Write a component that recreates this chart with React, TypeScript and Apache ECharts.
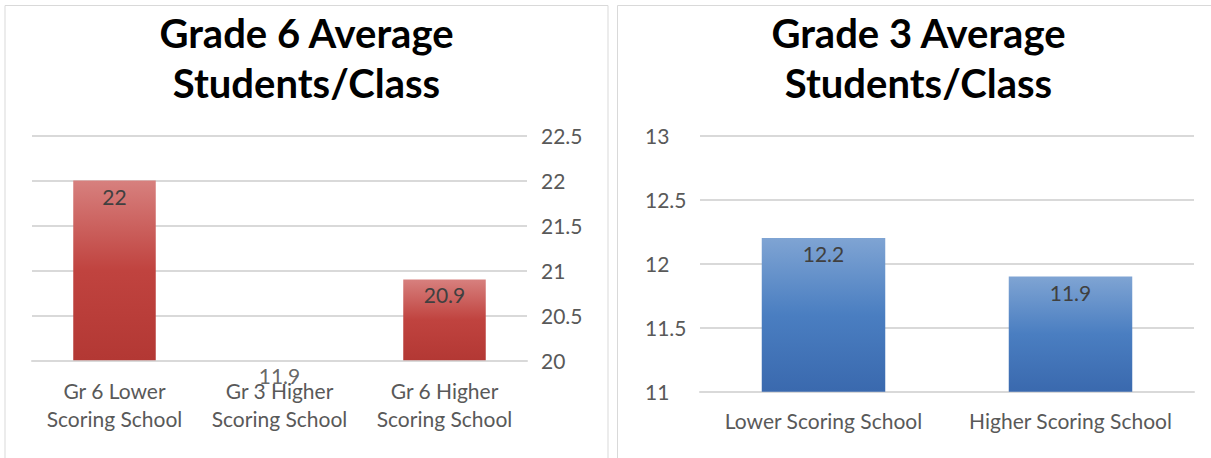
import React, { useEffect, useRef } from "react";
import * as echarts from "echarts";

const g6Categories = ["Gr 6 Lower\nScoring School", "Gr 3 Higher\nScoring School", "Gr 6 Higher\nScoring School"];
const g6Values = [22, 11.9, 20.9];
const g6Title = "Grade 6 Average\nStudents/Class";

const g3Categories = ["Lower Scoring School", "Higher Scoring School"];
const g3Values = [12.2, 11.9];
const g3Title = "Grade 3 Average\nStudents/Class";

const FONT = "Lato, 'Open Sans', sans-serif";
const GRID_COLOR = "#D9D9D9";
const TEXT_COLOR = "#595959";

export default function App() {
  const ref = useRef<HTMLDivElement>(null);
  useEffect(() => {
    if (!ref.current) return;
    const chart = echarts.init(ref.current, undefined, { renderer: "svg" });
    const redGrad = new echarts.graphic.LinearGradient(0, 0, 0, 1, [
      { offset: 0, color: "#D7807E" },
      { offset: 0.5, color: "#C0433F" },
      { offset: 1, color: "#B33834" },
    ]);
    const blueGrad = new echarts.graphic.LinearGradient(0, 0, 0, 1, [
      { offset: 0, color: "#7FA4D3" },
      { offset: 0.5, color: "#4A7EC1" },
      { offset: 1, color: "#3A69AE" },
    ]);
    const g6Min = 20;
    const valueLabel = {
      show: true,
      position: "insideTop",
      distance: 5,
      color: "#404040",
      fontSize: 21,
      fontFamily: FONT,
    };
    chart.setOption({
      animation: false,
      backgroundColor: "#fff",
      textStyle: { fontFamily: FONT },
      graphic: [
        { type: "rect", shape: { x: 5, y: 5.5, width: 603, height: 470 }, style: { fill: "none", stroke: GRID_COLOR, lineWidth: 1 }, silent: true },
        { type: "rect", shape: { x: 617.5, y: 5.5, width: 610, height: 470 }, style: { fill: "none", stroke: GRID_COLOR, lineWidth: 1 }, silent: true },
        { type: "text", x: 306.5, y: 58, style: { text: g6Title, align: "center", verticalAlign: "middle", font: `bold 40px ${FONT}`, lineHeight: 50, fill: "#000" } },
        { type: "text", x: 918.5, y: 58, style: { text: g3Title, align: "center", verticalAlign: "middle", font: `bold 40px ${FONT}`, lineHeight: 50, fill: "#000" } },
      ],
      grid: [
        { left: 32, top: 135.7, width: 495, height: 224.6, containLabel: false },
        { left: 700, top: 135.7, width: 494, height: 256, containLabel: false },
      ],
      xAxis: [
        {
          type: "category",
          gridIndex: 0,
          data: g6Categories,
          axisLine: { show: true, lineStyle: { color: GRID_COLOR, width: 2 } },
          axisTick: { show: false },
          axisLabel: { color: TEXT_COLOR, fontSize: 21, lineHeight: 28, margin: 16, fontFamily: FONT, interval: 0 },
        },
        {
          type: "category",
          gridIndex: 1,
          data: g3Categories,
          axisLine: { show: true, lineStyle: { color: GRID_COLOR, width: 2 } },
          axisTick: { show: false },
          axisLabel: { color: TEXT_COLOR, fontSize: 21, lineHeight: 28, margin: 15, fontFamily: FONT, interval: 0 },
        },
      ],
      yAxis: [
        {
          type: "value",
          gridIndex: 0,
          position: "right",
          min: g6Min,
          max: 22.5,
          interval: 0.5,
          axisLine: { show: false },
          axisTick: { show: false },
          splitLine: { show: true, lineStyle: { color: GRID_COLOR, width: 2 } },
          axisLabel: { color: TEXT_COLOR, fontSize: 21, margin: 14, fontFamily: FONT, align: "left" },
        },
        {
          type: "value",
          gridIndex: 1,
          position: "left",
          min: 11,
          max: 13,
          interval: 0.5,
          axisLine: { show: false },
          axisTick: { show: false },
          splitLine: { show: true, lineStyle: { color: GRID_COLOR, width: 2 } },
          axisLabel: { color: TEXT_COLOR, fontSize: 21, margin: 55, fontFamily: FONT, align: "left" },
        },
      ],
      series: [
        {
          type: "bar",
          xAxisIndex: 0,
          yAxisIndex: 0,
          barWidth: "50%",
          itemStyle: { color: redGrad },
          label: valueLabel,
          data: g6Values.map((v) => (v < g6Min ? { value: v, label: { show: false } } : v)),
        },
        {
          type: "scatter",
          xAxisIndex: 0,
          yAxisIndex: 0,
          symbolSize: 0,
          clip: false,
          silent: true,
          label: {
            show: true,
            position: "bottom",
            distance: 5,
            color: "#404040",
            fontSize: 21,
            fontFamily: FONT,
            formatter: (p: any) => String(p.data[2]),
          },
          data: g6Values
            .map((v, i) => [i, g6Min, v])
            .filter((d) => d[2] < g6Min),
        },
        {
          type: "bar",
          xAxisIndex: 1,
          yAxisIndex: 1,
          barWidth: "50%",
          itemStyle: { color: blueGrad },
          label: valueLabel,
          data: g3Values,
        },
      ],
    });
    return () => chart.dispose();
  }, []);
  return (
    <div
      ref={ref}
      style={{ position: "fixed", left: 0, top: 0, width: 1211, height: 458, background: "#fff" }}
    />
  );
}
